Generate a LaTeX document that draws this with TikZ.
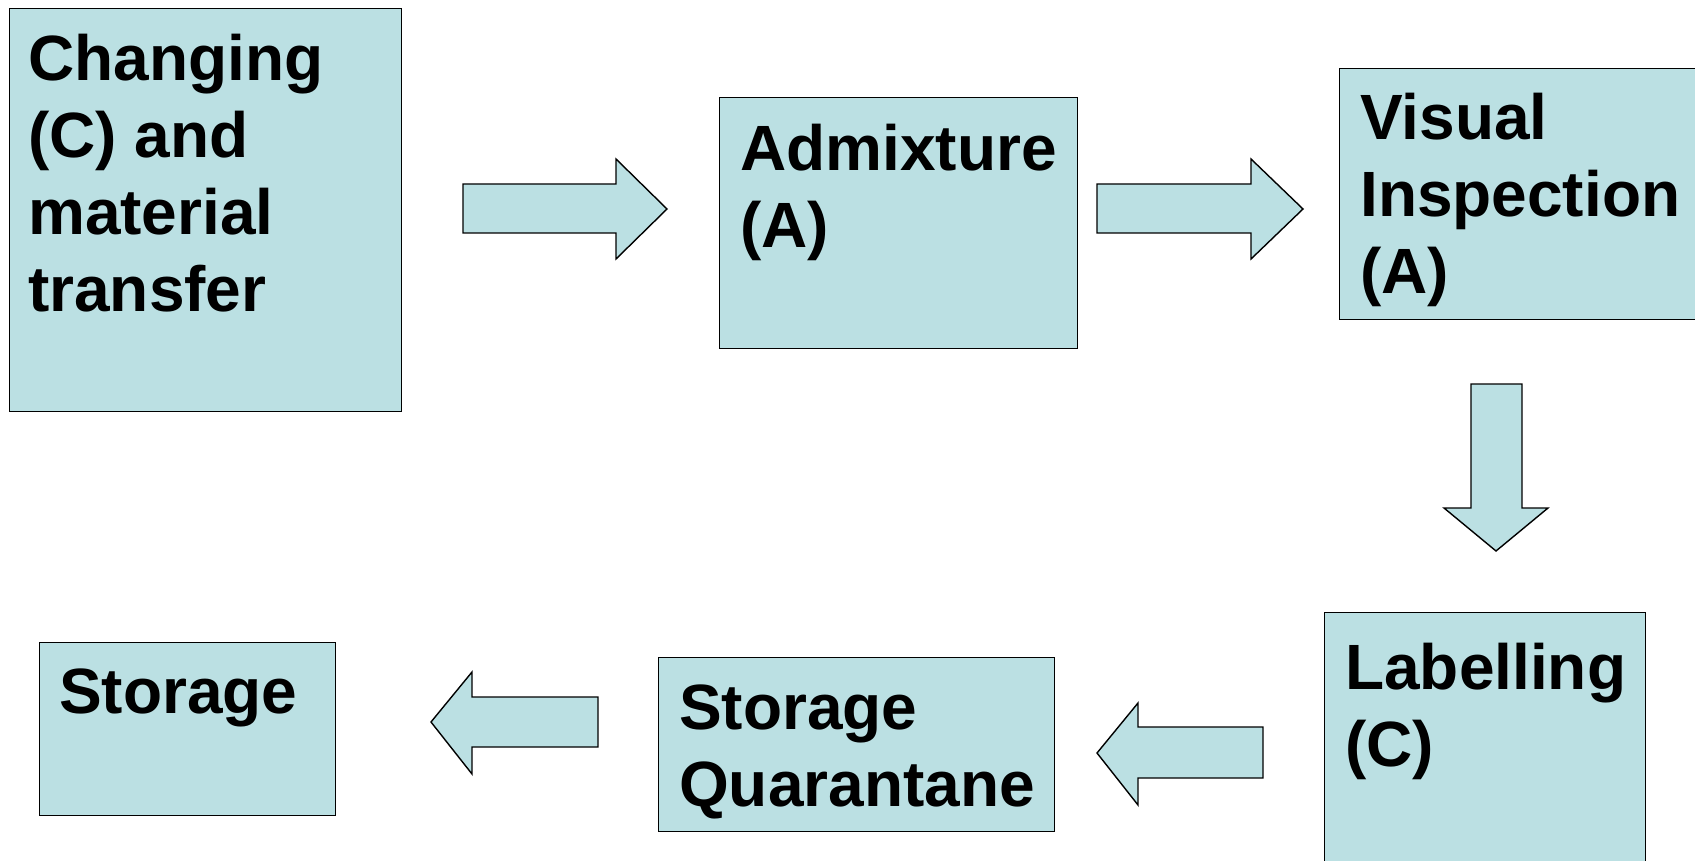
\documentclass[tikz,border=0pt]{standalone}
\usepackage{fontspec}
\setmainfont{Liberation Sans}
\usetikzlibrary{calc}
\definecolor{boxfill}{RGB}{187,224,227}
\begin{document}
\begin{tikzpicture}[x=1pt,y=-1pt,
  box/.style={draw=black,line width=1.4pt,fill=boxfill,rectangle,inner sep=0pt,anchor=north west},
  lbl/.style={anchor=base west,inner sep=0pt,font=\fontsize{64}{77}\selectfont\bfseries},
  blockarrow/.style={draw=black,line width=1.4pt,fill=boxfill,line join=miter}]
\useasboundingbox (0,0) rectangle (1695,861);
\clip (0,0) rectangle (1695,861);
% boxes
\node[box,minimum width=392pt,minimum height=403pt] (b1) at (9,8) {};
\node[box,minimum width=358pt,minimum height=251pt] (b2) at (719,97) {};
\node[box,minimum width=370pt,minimum height=251pt] (b3) at (1339,68) {};
\node[box,minimum width=321pt,minimum height=270pt] (b4) at (1324,612) {};
\node[box,minimum width=396pt,minimum height=174pt] (b5) at (658,657) {};
\node[box,minimum width=296pt,minimum height=173pt] (b6) at (39,642) {};
% labels
\node[lbl] (t1) at ($(b1.north west)+(19,73)$) {\vtop{\hbox{Changing}\hbox{(C) and}\hbox{material}\hbox{transfer}}};
\node[lbl] (t2) at ($(b2.north west)+(21,74)$) {\vtop{\hbox{Admixture}\hbox{(A)}}};
\node[lbl] (t3) at ($(b3.north west)+(21,72)$) {\vtop{\hbox{Visual}\hbox{Inspection}\hbox{(A)}}};
\node[lbl] (t4) at ($(b4.north west)+(21,77)$) {\vtop{\hbox{Labelling}\hbox{(C)}}};
\node[lbl] (t5) at ($(b5.north west)+(21,72)$) {\vtop{\hbox{Storage}\hbox{Quarantane}}};
\node[lbl] (t6) at ($(b6.north west)+(20,71)$) {Storage};
% block arrows
\draw[blockarrow] (463,184) -- (616,184) -- (616,159) -- (667,209) -- (616,259) -- (616,233) -- (463,233) -- cycle;
\draw[blockarrow] (1097,184) -- (1251,184) -- (1251,159) -- (1303,209) -- (1251,259) -- (1251,233) -- (1097,233) -- cycle;
\draw[blockarrow] (1471,384) -- (1522,384) -- (1522,508) -- (1548,508) -- (1496,551) -- (1444,508) -- (1471,508) -- cycle;
\draw[blockarrow] (1263,727) -- (1138,727) -- (1138,703) -- (1097,753) -- (1138,805) -- (1138,778) -- (1263,778) -- cycle;
\draw[blockarrow] (598,697) -- (472,697) -- (472,672) -- (431,722) -- (472,774) -- (472,747) -- (598,747) -- cycle;
\end{tikzpicture}
\end{document}
